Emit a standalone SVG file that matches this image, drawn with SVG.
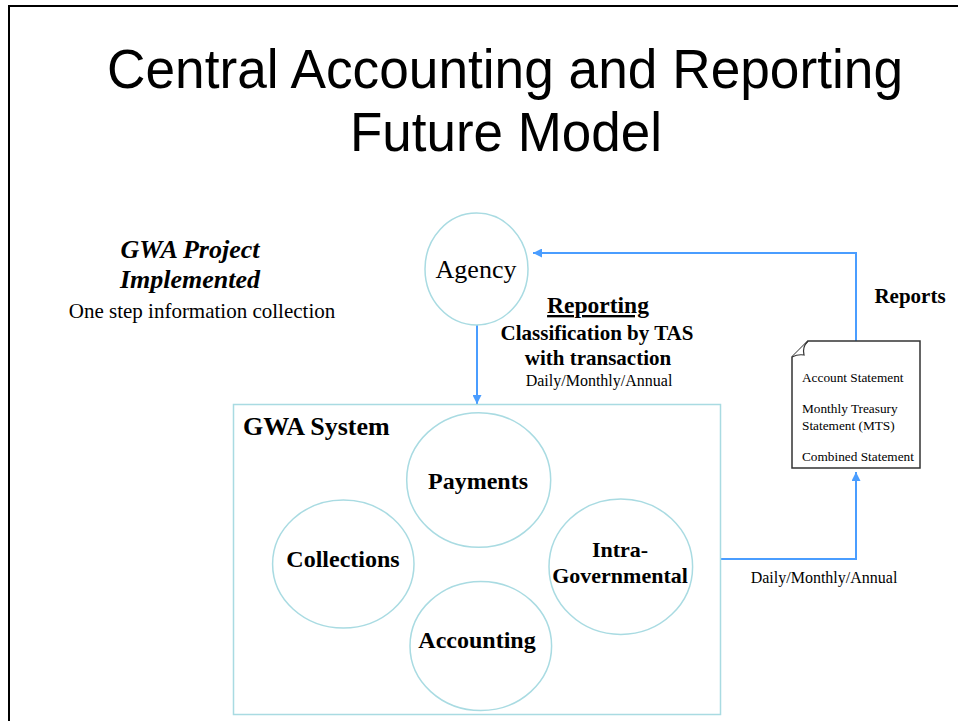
<svg xmlns="http://www.w3.org/2000/svg" width="958" height="721" viewBox="0 0 958 721">
<style>
.serif{font-family:"Liberation Serif","Times New Roman",serif;fill:#000}
.b{font-weight:bold}
.node{fill:#fff;stroke:#a9dbe2;stroke-width:1.5}
.conn{fill:none;stroke:#4a9dff;stroke-width:2}
.title{font-family:"Liberation Sans",Arial,sans-serif;font-size:56px;fill:#000}
</style>
<defs>
<marker id="ah" viewBox="0 0 10 10" refX="10" refY="5" markerWidth="9" markerHeight="9" markerUnits="userSpaceOnUse" orient="auto">
<path d="M0,0 L10,5 L0,10 Z" fill="#4a9dff"/>
</marker>
</defs>
<rect x="0" y="0" width="958" height="721" fill="#fff"/>
<rect x="9" y="6" width="1000" height="800" fill="none" stroke="#000" stroke-width="2"/>

<g id="title">
<text class="title" x="505" y="88" text-anchor="middle" textLength="796" lengthAdjust="spacingAndGlyphs">Central Accounting and Reporting</text>
<text class="title" x="506" y="151" text-anchor="middle" textLength="312" lengthAdjust="spacingAndGlyphs">Future Model</text>
</g>

<g id="project-note">
<text class="serif b" x="190" y="258" text-anchor="middle" font-size="26" font-style="italic">GWA Project</text>
<text class="serif b" x="190" y="288" text-anchor="middle" font-size="26" font-style="italic">Implemented</text>
<text class="serif" x="202" y="318" text-anchor="middle" font-size="21">One step information collection</text>
</g>

<g id="connectors">
<path class="conn" d="M477,325 L477,404" marker-end="url(#ah)"/>
<path class="conn" d="M856,341 L856,253 L533,253" marker-end="url(#ah)"/>
<path class="conn" d="M721,559 L856,559 L856,472" marker-end="url(#ah)"/>
</g>

<g id="agency">
<ellipse class="node" cx="476.5" cy="269" rx="51.5" ry="56"/>
<text class="serif" x="476" y="278" text-anchor="middle" font-size="26">Agency</text>
</g>

<g id="reporting-label">
<text class="serif b" x="598" y="313" text-anchor="middle" font-size="23.5" text-decoration="underline">Reporting</text>
<text class="serif b" x="597" y="340" text-anchor="middle" font-size="21">Classification by TAS</text>
<text class="serif b" x="598" y="365" text-anchor="middle" font-size="21">with transaction</text>
<text class="serif" x="599" y="386" text-anchor="middle" font-size="16">Daily/Monthly/Annual</text>
</g>

<g id="reports-label">
<text class="serif b" x="910" y="303" text-anchor="middle" font-size="21">Reports</text>
</g>

<g id="statements">
<path d="M808,341 L920,341 L920,468 L792,468 L792,357 Z" fill="#fff" stroke="#333" stroke-width="1.5"/>
<path d="M808,341 Q802,347 804,355 Q798,354 792,357" fill="#fff" stroke="#333" stroke-width="1.2"/>
<text class="serif" x="802" y="382" font-size="13.3">Account Statement</text>
<text class="serif" x="802" y="413" font-size="13.3">Monthly Treasury</text>
<text class="serif" x="802" y="430" font-size="13.3">Statement (MTS)</text>
<text class="serif" x="802" y="461" font-size="13.3">Combined Statement</text>
</g>

<g id="freq-label">
<text class="serif" x="824" y="583" text-anchor="middle" font-size="16">Daily/Monthly/Annual</text>
</g>

<g id="gwa-system">
<rect x="233.5" y="404.5" width="487" height="310" fill="none" stroke="#a9dbe2" stroke-width="1.5"/>
<text class="serif b" x="243" y="435" font-size="26">GWA System</text>
</g>

<g id="payments">
<ellipse class="node" cx="478.7" cy="480" rx="72" ry="67.3"/>
<text class="serif b" x="478" y="489" text-anchor="middle" font-size="24">Payments</text>
</g>

<g id="collections">
<ellipse class="node" cx="343.3" cy="564" rx="70.7" ry="64"/>
<text class="serif b" x="343" y="567" text-anchor="middle" font-size="24">Collections</text>
</g>

<g id="intra-governmental">
<ellipse class="node" cx="620.8" cy="566.7" rx="71.8" ry="67.7"/>
<text class="serif b" x="620" y="557" text-anchor="middle" font-size="22">Intra-</text>
<text class="serif b" x="620" y="583" text-anchor="middle" font-size="22">Governmental</text>
</g>

<g id="accounting">
<ellipse class="node" cx="480.8" cy="646" rx="70.8" ry="64.5"/>
<text class="serif b" x="477" y="648" text-anchor="middle" font-size="24">Accounting</text>
</g>
</svg>
